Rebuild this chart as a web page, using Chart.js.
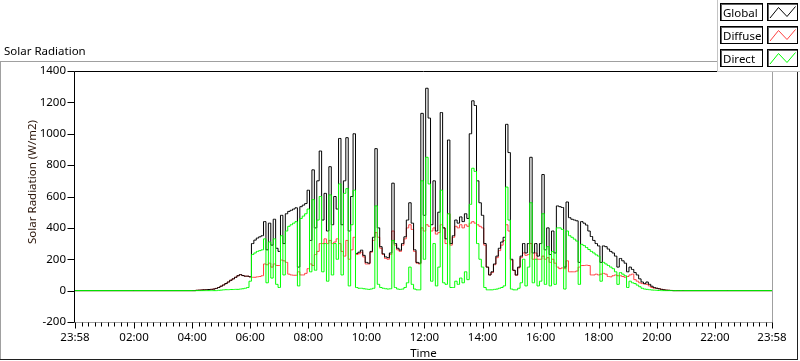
<!DOCTYPE html>
<html>
<head>
<meta charset="utf-8">
<title>Solar Radiation</title>
<script src="https://cdn.jsdelivr.net/npm/chart.js@4.4.0/dist/chart.umd.min.js"></script>
<style>
    html, body { margin: 0; padding: 0; background: #fff; }
    canvas { display: block; }
</style>
</head>
<body>
<canvas id="solarChart" width="800" height="361"></canvas>
<script>
// 5 minute samples from 04:00 to 20:55 (W/m2), one row per hour
const sampleStart = 240;
const sampleStep = 5;

const globalRad = [
    0, 0, 2, 3, 4, 5, 6, 7, 8, 10, 14, 20,
    28, 36, 45, 55, 66, 75, 85, 95, 102, 96, 92, 92,
    88, 300, 322, 335, 343, 350, 440, 260, 430, 290, 455, 270,
    250, 480, 300, 490, 505, 512, 520, 528, 150, 535, 545, 555,
    640, 320, 770, 400, 700, 890, 450, 620, 380, 790, 420, 600,
    520, 970, 420, 700, 975, 380, 600, 1000, 237, 245, 258, 225,
    180, 175, 250, 340, 905, 400, 280, 235, 215, 210, 240, 685,
    300, 270, 258, 300, 343, 450, 560, 430, 260, 180, 175, 1130,
    480, 1290, 1100, 420, 700, 380, 500, 1135, 400, 330, 960, 300,
    350, 450, 430, 470, 440, 490, 460, 1000, 1210, 1180, 700, 560,
    480, 300, 150, 100, 120, 170, 220, 270, 310, 340, 1060, 880,
    200, 130, 100, 150, 220, 300, 240, 300, 850, 240, 300, 220,
    300, 740, 260, 400, 230, 380, 240, 540, 535, 530, 150, 565,
    465, 455, 450, 445, 180, 440, 430, 418, 380, 345, 320, 300,
    285, 180, 285, 280, 265, 250, 240, 220, 150, 205, 190, 175,
    120, 150, 135, 115, 100, 75, 55, 45, 55, 40, 28, 20,
    15, 12, 8, 5, 3, 2, 1, 0, 0, 0, 0, 0
];

const diffuseRad = [
    0, 0, 2, 3, 4, 5, 6, 7, 8, 10, 14, 20,
    28, 36, 45, 55, 66, 75, 85, 95, 102, 96, 92, 92,
    88, 85, 85, 88, 90, 95, 170, 165, 175, 150, 170, 160,
    160, 195, 190, 180, 105, 100, 98, 98, 120, 100, 100, 110,
    140, 170, 160, 230, 250, 300, 300, 330, 300, 320, 300, 310,
    330, 300, 250, 220, 320, 200, 260, 340, 230, 235, 245, 215,
    170, 170, 245, 320, 370, 340, 270, 230, 205, 200, 230, 380,
    290, 260, 250, 290, 330, 400, 420, 390, 250, 175, 170, 400,
    380, 420, 410, 380, 400, 360, 370, 420, 400, 300, 490, 290,
    340, 410, 400, 420, 400, 420, 410, 430, 440, 430, 420, 410,
    400, 290, 150, 100, 115, 165, 210, 255, 290, 320, 420, 380,
    195, 128, 98, 145, 210, 240, 225, 230, 300, 200, 240, 200,
    200, 220, 200, 210, 180, 200, 175, 150, 140, 145, 140, 190,
    120, 120, 120, 125, 150, 160, 160, 162, 160, 100, 100, 105,
    100, 105, 110, 105, 90, 88, 95, 100, 95, 95, 90, 85,
    90, 100, 105, 70, 60, 50, 45, 42, 40, 30, 20, 15,
    15, 12, 8, 5, 3, 2, 1, 0, 0, 0, 0, 0
];

const directRad = [
    0, 0, 0, 0, 0, 0, 0, 0, 0, 0, 0, 2,
    3, 5, 6, 6, 7, 7, 8, 8, 10, 12, 15, 20,
    60, 230, 240, 250, 255, 260, 330, 50, 310, 80, 330, 40,
    20, 350, 100, 380, 410, 420, 430, 440, 30, 460, 475, 490,
    520, 120, 580, 130, 450, 600, 120, 300, 60, 610, 100, 300,
    200, 680, 100, 620, 650, 30, 420, 640, 20, 15, 15, 12,
    10, 8, 10, 15, 540, 40, 20, 15, 12, 10, 12, 320,
    20, 10, 8, 10, 20, 50, 150, 40, 10, 5, 5, 700,
    200, 850, 680, 60, 300, 30, 150, 640, 50, 40, 490, 20,
    20, 60, 40, 80, 50, 120, 70, 550, 780, 760, 300, 200,
    150, 20, 5, 5, 5, 8, 10, 15, 20, 30, 660, 450,
    10, 5, 5, 15, 50, 200, 30, 150, 560, 50, 200, 30,
    60, 490, 40, 280, 30, 250, 40, 400, 400, 390, 10, 380,
    350, 340, 328, 316, 40, 295, 287, 275, 262, 250, 240, 228,
    220, 60, 180, 170, 160, 150, 140, 120, 40, 115, 105, 95,
    20, 60, 50, 45, 35, 25, 15, 10, 8, 6, 4, 3,
    2, 1, 0, 0, 0, 0, 0, 0, 0, 0, 0, 0
];

// axis runs 23:58 -> 23:58 (minutes from midnight)
const axisStart = -2;
const axisEnd = 1438;
const xTickMinutes = [-2, 120, 240, 360, 480, 600, 720, 840, 960, 1080, 1200, 1320, 1438];
const yTickValues = [-200, 0, 200, 400, 600, 800, 1000, 1200, 1400];

const seriesNames = ['Global', 'Diffuse', 'Direct'];
const seriesColors = ['#000000', '#ff4040', '#00ff00'];

const FONT = "'Noto Sans', 'Liberation Sans', sans-serif";

function toPoints(values) {
    const pts = [{ x: axisStart, y: 0 }];
    values.forEach((v, i) => pts.push({ x: sampleStart + i * sampleStep, y: v }));
    pts.push({ x: axisEnd, y: 0 });
    return pts;
}

function clockLabel(value) {
    const m = ((Math.round(value) % 1440) + 1440) % 1440;
    return String(Math.floor(m / 60)).padStart(2, '0') + ':' + String(m % 60).padStart(2, '0');
}

function hline(ctx, x1, x2, y, color) {
    ctx.strokeStyle = color;
    ctx.beginPath();
    ctx.moveTo(x1, y);
    ctx.lineTo(x2, y);
    ctx.stroke();
}

function vline(ctx, x, y1, y2, color) {
    ctx.strokeStyle = color;
    ctx.beginPath();
    ctx.moveTo(x, y1);
    ctx.lineTo(x, y2);
    ctx.stroke();
}

const labviewFrame = {
    id: 'labviewFrame',
    beforeDraw(chart) {
        const ctx = chart.ctx;
        ctx.save();
        ctx.fillStyle = '#fff';
        ctx.fillRect(0, 0, chart.width, chart.height);
        ctx.lineWidth = 1;
        hline(ctx, 0, 800, 61.5, '#a0a0a0');
        vline(ctx, 0.5, 61, 360, '#a0a0a0');
        hline(ctx, 0, 798, 359.5, '#202020');
        vline(ctx, 797.5, 61, 360, '#202020');

        ctx.fillStyle = '#000';
        ctx.font = '11.5px ' + FONT;
        ctx.textAlign = 'left';
        ctx.textBaseline = 'alphabetic';
        ctx.fillText('Solar Radiation', 4, 55);
        ctx.restore();
    },
    afterDraw(chart) {
        const ctx = chart.ctx;
        const area = chart.chartArea;
        const xs = chart.scales.x;
        const ys = chart.scales.y;
        ctx.save();
        ctx.lineWidth = 1;

        // plot frame
        const L = area.left - 0.5, R = area.right + 0.5, T = area.top + 0.5, B = area.bottom + 0.5;
        hline(ctx, L, R, T, '#000');
        vline(ctx, L, T, B, '#000');
        hline(ctx, L, R + 0.5, B, '#a0a0a0');
        vline(ctx, R, T, B, '#a0a0a0');

        // y ticks
        yTickValues.forEach(v => {
            const y = Math.round(ys.getPixelForValue(v)) + 0.5;
            hline(ctx, L - 7, L, y, '#000');
        });

        // x major + minor ticks
        for (let i = 0; i < xTickMinutes.length; i++) {
            const x = Math.round(xs.getPixelForValue(xTickMinutes[i])) + 0.5;
            vline(ctx, x, B, B + 6, '#000');
            if (i < xTickMinutes.length - 1) {
                const a = xTickMinutes[i], b = xTickMinutes[i + 1];
                for (let k = 1; k < 9; k++) {
                    const mx = Math.round(xs.getPixelForValue(a + (b - a) * k / 9)) + 0.5;
                    vline(ctx, mx, B, B + 4, '#000');
                }
            }
        }

        // axis names
        ctx.fillStyle = '#000';
        ctx.font = '11.5px ' + FONT;
        ctx.textAlign = 'center';
        ctx.textBaseline = 'alphabetic';
        ctx.fillText('Time', (area.left + area.right) / 2, 357);
        ctx.save();
        ctx.translate(36, 182);
        ctx.rotate(-Math.PI / 2);
        ctx.fillStyle = '#2a1408';
        ctx.fillText('Solar Radiation (W/m2)', 0, 0);
        ctx.restore();

        // legend panel
        ctx.fillStyle = '#fff';
        ctx.fillRect(717, 0, 83, 72);
        vline(ctx, 717.5, 0, 72, '#c4c4c4');
        hline(ctx, 717, 800, 71.5, '#c4c4c4');
        seriesNames.forEach((name, i) => {
            const top = 3 + 23 * i;
            ctx.strokeStyle = '#000';
            ctx.strokeRect(720.5, top + 0.5, 42, 17);
            ctx.strokeRect(767.5, top + 0.5, 30, 17);
            hline(ctx, 721, 762, top + 1.5, '#606060');
            vline(ctx, 721.5, top + 1, top + 17, '#606060');
            hline(ctx, 768, 797, top + 1.5, '#606060');
            vline(ctx, 768.5, top + 1, top + 17, '#606060');
            ctx.fillStyle = '#000';
            ctx.textAlign = 'left';
            ctx.fillText(name, 723, top + 13.5);
            ctx.strokeStyle = seriesColors[i];
            ctx.beginPath();
            ctx.moveTo(770, top + 15);
            ctx.lineTo(778.5, top + 4.5);
            ctx.lineTo(787, top + 13.5);
            ctx.lineTo(795.5, top + 3.5);
            ctx.stroke();
        });
        ctx.restore();
    }
};

const ctx = document.getElementById('solarChart').getContext('2d');
new Chart(ctx, {
    type: 'line',
    data: {
        datasets: [
            { label: 'Global', data: toPoints(globalRad), borderColor: seriesColors[0], order: 1 },
            { label: 'Diffuse', data: toPoints(diffuseRad), borderColor: seriesColors[1], order: 2 },
            { label: 'Direct', data: toPoints(directRad), borderColor: seriesColors[2], order: 0 }
        ]
    },
    options: {
        responsive: false,
        animation: false,
        devicePixelRatio: 1,
        layout: { padding: { left: 0, top: 71, right: 28, bottom: 0 } },
        elements: {
            point: { radius: 0 },
            line: { borderWidth: 1, tension: 0, stepped: 'middle' }
        },
        plugins: {
            legend: { display: false },
            tooltip: { enabled: false },
            title: { display: false }
        },
        scales: {
            x: {
                type: 'linear',
                min: axisStart,
                max: axisEnd,
                grid: { display: false, drawTicks: false },
                border: { display: false },
                afterBuildTicks: scale => {
                    scale.ticks = xTickMinutes.map(v => ({ value: v }));
                },
                afterFit: scale => { scale.height = 39; },
                ticks: {
                    autoSkip: false,
                    maxRotation: 0,
                    padding: 9,
                    color: '#000',
                    font: { family: FONT, size: 11.5 },
                    callback: value => clockLabel(value)
                }
            },
            y: {
                min: -200,
                max: 1400,
                grid: { display: false, drawTicks: false },
                border: { display: false },
                afterBuildTicks: scale => {
                    scale.ticks = yTickValues.map(v => ({ value: v }));
                },
                afterFit: scale => { scale.width = 75; },
                ticks: {
                    padding: 9,
                    color: '#000',
                    font: { family: FONT, size: 11.5 },
                    callback: value => String(value)
                }
            }
        }
    },
    plugins: [labviewFrame]
});
</script>
</body>
</html>
